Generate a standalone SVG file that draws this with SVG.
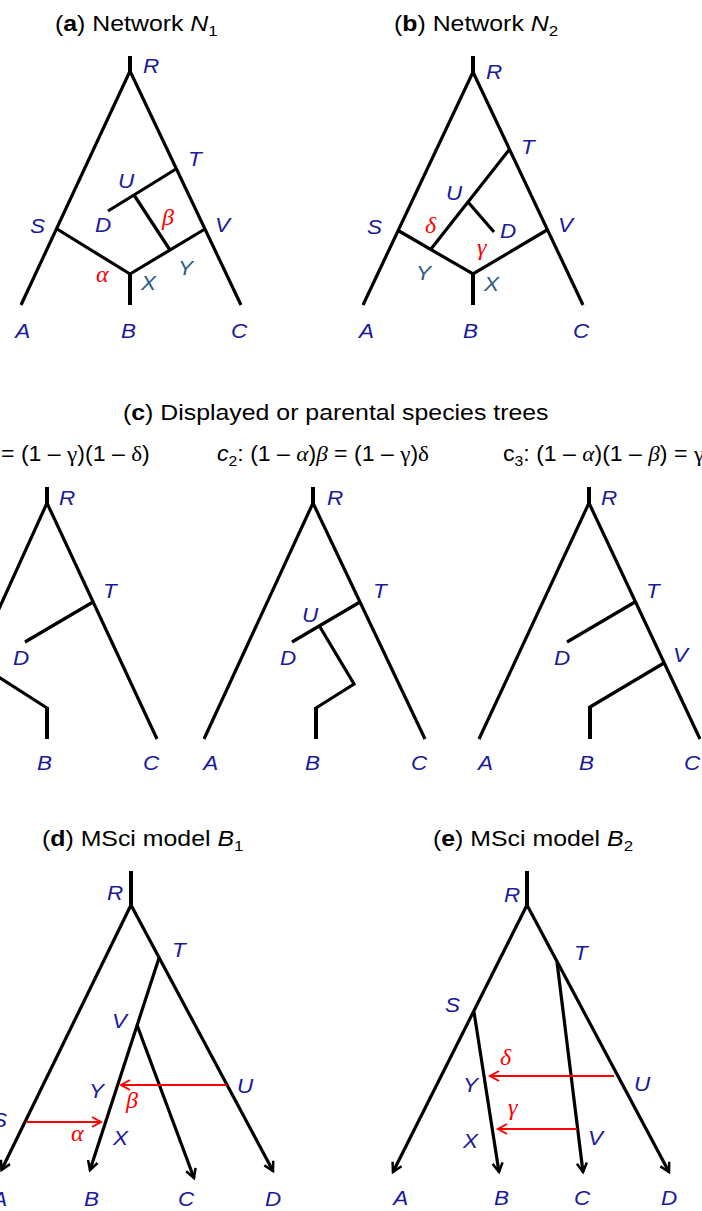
<svg xmlns="http://www.w3.org/2000/svg" width="702" height="1211" viewBox="0 0 702 1211">
<style>
.e{stroke:#000;stroke-width:3.2;fill:none;stroke-linejoin:miter;stroke-miterlimit:10}
.stem{stroke:#000;stroke-width:4;fill:none}
.r{stroke:#f00;stroke-width:2;fill:none}
.lb{font-family:"Liberation Sans",Arial,sans-serif;font-style:italic;font-size:21px;fill:#1a1a9a;transform-box:fill-box;transform-origin:0 0;transform:scaleX(1.07)}
.st{fill:#2d5b86}
.gk{font-family:"Liberation Serif","Times New Roman",serif;font-style:italic;font-size:24px;fill:#f00;transform:none}
.ttl{font-family:"Liberation Sans",Arial,sans-serif;font-size:22px;fill:#000;transform-box:fill-box;transform-origin:0 0;transform:scaleX(1.13)}
.sub{font-family:"Liberation Sans",Arial,sans-serif;font-size:22px;fill:#000;transform-box:fill-box;transform-origin:0 0;transform:scaleX(1.05)}
.gi{font-family:"Liberation Serif","Times New Roman",serif;font-style:italic}
.gu{font-family:"Liberation Serif","Times New Roman",serif}
</style>
<defs>
<marker id="ah" markerUnits="userSpaceOnUse" markerWidth="16" markerHeight="16" viewBox="-13 -8 16 16" refX="0" refY="0" orient="auto"><path d="M-9,-5 L0,0 L-9,5" fill="none" stroke="#000" stroke-width="2.5"/></marker>
<marker id="rh" markerUnits="userSpaceOnUse" markerWidth="16" markerHeight="16" viewBox="-13 -8 16 16" refX="0" refY="0" orient="auto"><path d="M-9,-5 L0,0 L-9,5" fill="none" stroke="#f00" stroke-width="2"/></marker>
</defs>

<!-- Titles -->
<g id="titles">
<text class="ttl" x="55" y="31">(<tspan font-weight="bold">a</tspan>) Network <tspan font-style="italic">N</tspan><tspan font-size="15" dy="5">1</tspan></text>
<text class="ttl" x="394" y="31">(<tspan font-weight="bold">b</tspan>) Network <tspan font-style="italic">N</tspan><tspan font-size="15" dy="5">2</tspan></text>
<text class="ttl" x="123" y="420">(<tspan font-weight="bold">c</tspan>) Displayed or parental species trees</text>
<text class="sub" x="1" y="461">= (1 – <tspan class="gu">γ</tspan>)(1 – <tspan class="gu">δ</tspan>)</text>
<text class="sub" x="217" y="461"><tspan font-style="italic">c</tspan><tspan font-size="15" dy="5">2</tspan><tspan dy="-5">: (1 – </tspan><tspan class="gi">α</tspan>)<tspan class="gi">β</tspan> = (1 – <tspan class="gu">γ</tspan>)<tspan class="gu">δ</tspan></text>
<text class="sub" x="503" y="461">c<tspan font-size="15" dy="5">3</tspan><tspan dy="-5">: (1 – </tspan><tspan class="gi">α</tspan>)(1 – <tspan class="gi">β</tspan>) = <tspan class="gu">γ</tspan></text>
<text class="ttl" x="42" y="846">(<tspan font-weight="bold">d</tspan>) MSci model <tspan font-style="italic">B</tspan><tspan font-size="15" dy="5">1</tspan></text>
<text class="ttl" x="433" y="846">(<tspan font-weight="bold">e</tspan>) MSci model <tspan font-style="italic">B</tspan><tspan font-size="15" dy="5">2</tspan></text>
</g>

<!-- Connectors -->
<g id="connectors">
<!-- panel a -->
<line class="stem" x1="130" y1="56" x2="130" y2="72"/>
<path class="e" d="M21,305 L130,71 L241,305"/>
<path class="e" d="M57,229 L130,274 L205,229"/>
<line class="stem" x1="130" y1="273" x2="130" y2="305"/>
<path class="e" d="M176,169 L134,195 L108,211"/>
<line class="e" x1="134" y1="195" x2="170" y2="250"/>
<!-- panel b -->
<line class="stem" x1="473" y1="56" x2="473" y2="73"/>
<path class="e" d="M363,305 L473,72 L583,305"/>
<path class="e" d="M399,231 L473,274 L547,230"/>
<line class="stem" x1="473" y1="273" x2="473" y2="305"/>
<line class="e" x1="509" y1="150" x2="431" y2="249"/>
<line class="e" x1="468" y1="202" x2="494" y2="232"/>
<!-- panel c1 -->
<line class="stem" x1="47" y1="487" x2="47" y2="504"/>
<path class="e" d="M-60,739 L47,503 L157,739"/>
<line class="e" x1="93" y1="602" x2="25" y2="642"/>
<path class="e" d="M-20,665 L47,708"/>
<line class="stem" x1="47" y1="707" x2="47" y2="739"/>
<!-- panel c2 -->
<line class="stem" x1="313" y1="487" x2="313" y2="504"/>
<path class="e" d="M204,739 L313,503 L425,739"/>
<line class="e" x1="360" y1="602" x2="292" y2="642"/>
<path class="e" d="M320,627 L354,684 L316,708"/>
<line class="stem" x1="316" y1="707" x2="316" y2="739"/>
<!-- panel c3 -->
<line class="stem" x1="589" y1="487" x2="589" y2="504"/>
<path class="e" d="M479,739 L589,503 L700,739"/>
<line class="e" x1="635" y1="602" x2="567" y2="642"/>
<path class="e" d="M664,663 L590,707"/>
<line class="stem" x1="590" y1="706" x2="590" y2="739"/>
<!-- panel d -->
<line class="stem" x1="131" y1="871" x2="131" y2="906"/>
<line class="e" x1="131" y1="905" x2="1.5" y2="1170" marker-end="url(#ah)"/>
<line class="e" x1="131" y1="905" x2="273" y2="1171" marker-end="url(#ah)"/>
<line class="e" x1="159" y1="958" x2="90" y2="1170" marker-end="url(#ah)"/>
<line class="e" x1="137" y1="1025" x2="194" y2="1178" marker-end="url(#ah)"/>
<line class="r" x1="227" y1="1085" x2="121" y2="1085" marker-end="url(#rh)"/>
<line class="r" x1="26" y1="1122" x2="101" y2="1122" marker-end="url(#rh)"/>
<!-- panel e -->
<line class="stem" x1="527" y1="871" x2="527" y2="906"/>
<line class="e" x1="527" y1="905" x2="393" y2="1172" marker-end="url(#ah)"/>
<line class="e" x1="527" y1="905" x2="669" y2="1172" marker-end="url(#ah)"/>
<line class="e" x1="474" y1="1012" x2="499" y2="1172" marker-end="url(#ah)"/>
<line class="e" x1="557" y1="962" x2="583" y2="1172" marker-end="url(#ah)"/>
<line class="r" x1="614" y1="1076" x2="490" y2="1076" marker-end="url(#rh)"/>
<line class="r" x1="577" y1="1129" x2="498" y2="1129" marker-end="url(#rh)"/>
</g>

<!-- Panel a nodes -->
<g id="a-nodes">
<g id="a-R"><text class="lb" x="143" y="73">R</text></g>
<g id="a-T"><text class="lb" x="188" y="166">T</text></g>
<g id="a-U"><text class="lb" x="118" y="188">U</text></g>
<g id="a-D"><text class="lb" x="95" y="232">D</text></g>
<g id="a-beta"><text class="lb gk" x="162" y="225">β</text></g>
<g id="a-S"><text class="lb" x="30" y="233">S</text></g>
<g id="a-V"><text class="lb" x="215" y="232">V</text></g>
<g id="a-Y"><text class="lb st" x="178" y="275">Y</text></g>
<g id="a-alpha"><text class="lb gk" x="96" y="282">α</text></g>
<g id="a-X"><text class="lb st" x="141" y="290">X</text></g>
<g id="a-A"><text class="lb" x="15" y="338">A</text></g>
<g id="a-B"><text class="lb" x="121" y="338">B</text></g>
<g id="a-C"><text class="lb" x="231" y="338">C</text></g>
</g>

<!-- Panel b nodes -->
<g id="b-nodes">
<g id="b-R"><text class="lb" x="486" y="79">R</text></g>
<g id="b-T"><text class="lb" x="521" y="154">T</text></g>
<g id="b-U"><text class="lb" x="446" y="200">U</text></g>
<g id="b-S"><text class="lb" x="367" y="234">S</text></g>
<g id="b-delta"><text class="lb gk" x="425" y="233">δ</text></g>
<g id="b-D"><text class="lb" x="500" y="238">D</text></g>
<g id="b-V"><text class="lb" x="558" y="232">V</text></g>
<g id="b-gamma"><text class="lb gk" x="477" y="255">γ</text></g>
<g id="b-Y"><text class="lb st" x="416" y="280">Y</text></g>
<g id="b-X"><text class="lb st" x="484" y="291">X</text></g>
<g id="b-A"><text class="lb" x="359" y="338">A</text></g>
<g id="b-B"><text class="lb" x="463" y="338">B</text></g>
<g id="b-C"><text class="lb" x="573" y="338">C</text></g>
</g>

<!-- Panel c nodes -->
<g id="c1-nodes">
<g id="c1-R"><text class="lb" x="59" y="505">R</text></g>
<g id="c1-T"><text class="lb" x="103" y="598">T</text></g>
<g id="c1-D"><text class="lb" x="13" y="665">D</text></g>
<g id="c1-B"><text class="lb" x="37" y="770">B</text></g>
<g id="c1-C"><text class="lb" x="143" y="770">C</text></g>
</g>
<g id="c2-nodes">
<g id="c2-R"><text class="lb" x="327" y="505">R</text></g>
<g id="c2-T"><text class="lb" x="373" y="598">T</text></g>
<g id="c2-U"><text class="lb" x="302" y="622">U</text></g>
<g id="c2-D"><text class="lb" x="280" y="665">D</text></g>
<g id="c2-A"><text class="lb" x="203" y="770">A</text></g>
<g id="c2-B"><text class="lb" x="305" y="770">B</text></g>
<g id="c2-C"><text class="lb" x="411" y="770">C</text></g>
</g>
<g id="c3-nodes">
<g id="c3-R"><text class="lb" x="601" y="505">R</text></g>
<g id="c3-T"><text class="lb" x="646" y="598">T</text></g>
<g id="c3-D"><text class="lb" x="554" y="665">D</text></g>
<g id="c3-V"><text class="lb" x="673" y="662">V</text></g>
<g id="c3-A"><text class="lb" x="478" y="770">A</text></g>
<g id="c3-B"><text class="lb" x="579" y="770">B</text></g>
<g id="c3-C"><text class="lb" x="684" y="770">C</text></g>
</g>

<!-- Panel d nodes -->
<g id="d-nodes">
<g id="d-R"><text class="lb" x="107" y="900">R</text></g>
<g id="d-T"><text class="lb" x="172" y="957">T</text></g>
<g id="d-V"><text class="lb" x="112" y="1028">V</text></g>
<g id="d-U"><text class="lb" x="237" y="1093">U</text></g>
<g id="d-Y"><text class="lb" x="89" y="1098">Y</text></g>
<g id="d-beta"><text class="lb gk" x="126" y="1108">β</text></g>
<g id="d-S"><text class="lb" x="-8" y="1127">S</text></g>
<g id="d-alpha"><text class="lb gk" x="71" y="1141">α</text></g>
<g id="d-X"><text class="lb" x="113" y="1145">X</text></g>
<g id="d-A"><text class="lb" x="-8" y="1206">A</text></g>
<g id="d-B"><text class="lb" x="84" y="1206">B</text></g>
<g id="d-C"><text class="lb" x="178" y="1206">C</text></g>
<g id="d-D"><text class="lb" x="265" y="1206">D</text></g>
</g>

<!-- Panel e nodes -->
<g id="e-nodes">
<g id="e-R"><text class="lb" x="504" y="902">R</text></g>
<g id="e-T"><text class="lb" x="574" y="960">T</text></g>
<g id="e-S"><text class="lb" x="445" y="1012">S</text></g>
<g id="e-delta"><text class="lb gk" x="500" y="1065">δ</text></g>
<g id="e-Y"><text class="lb" x="463" y="1092">Y</text></g>
<g id="e-U"><text class="lb" x="634" y="1091">U</text></g>
<g id="e-gamma"><text class="lb gk" x="508" y="1115">γ</text></g>
<g id="e-X"><text class="lb" x="463" y="1148">X</text></g>
<g id="e-V"><text class="lb" x="588" y="1145">V</text></g>
<g id="e-A"><text class="lb" x="393" y="1205">A</text></g>
<g id="e-B"><text class="lb" x="494" y="1205">B</text></g>
<g id="e-C"><text class="lb" x="574" y="1205">C</text></g>
<g id="e-D"><text class="lb" x="661" y="1205">D</text></g>
</g>
</svg>
